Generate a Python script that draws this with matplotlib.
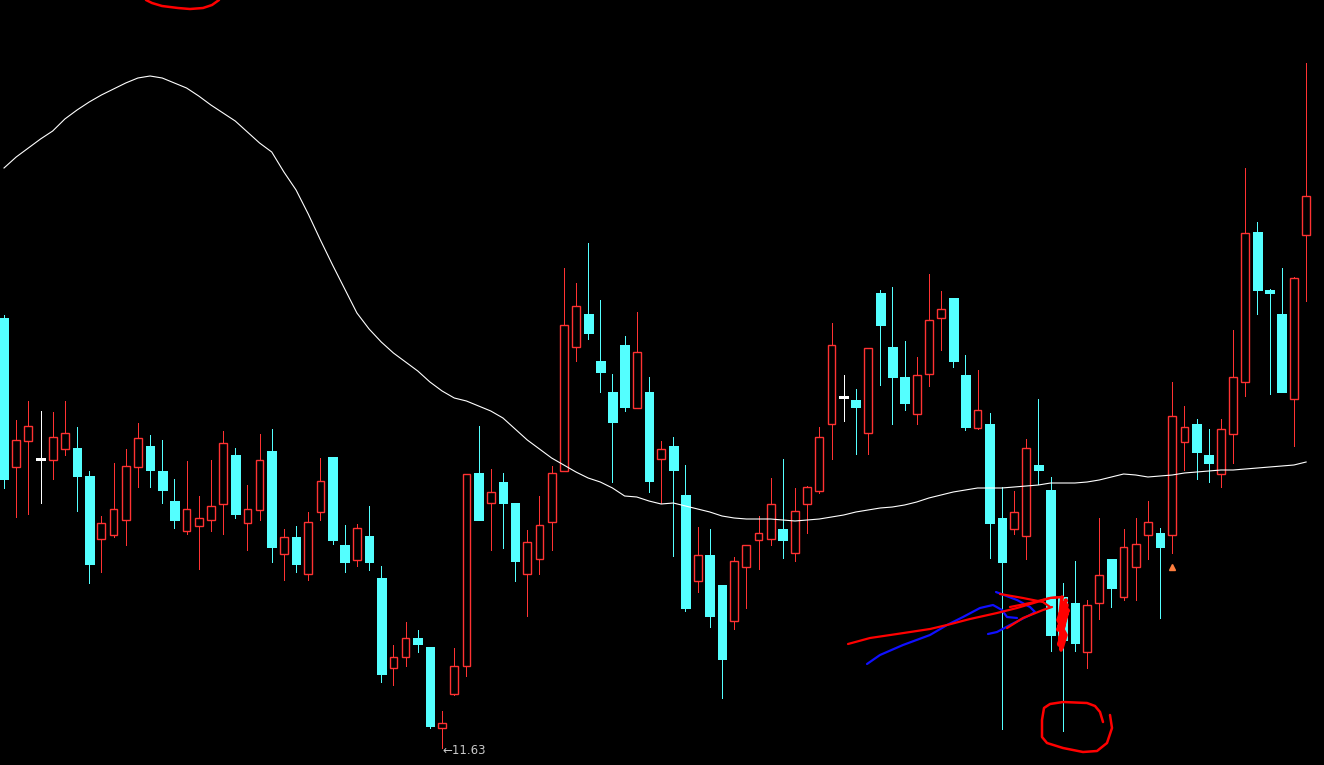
import matplotlib
matplotlib.use("Agg")
import matplotlib.pyplot as plt
from matplotlib.patches import Rectangle
from matplotlib.transforms import Affine2D

# daily candles (price scale from the 11.63 low)
opens = [15.93, 14.44, 14.70, 14.52, 14.51, 14.62, 14.63, 14.35, 13.72, 13.76,
         13.91, 14.44, 14.65, 14.40, 14.10, 13.80, 13.85, 13.91, 14.07, 14.56,
         13.88, 14.01, 14.60, 13.57, 13.74, 13.37, 13.99, 14.54, 13.66, 13.51,
         13.75, 13.33, 12.43, 12.54, 12.73, 12.64, 11.83, 12.17, 12.45, 14.38,
         14.08, 14.29, 14.08, 13.37, 13.52, 13.89, 14.40, 15.64, 15.97, 15.50,
         15.19, 15.66, 15.03, 15.19, 14.52, 14.65, 14.16, 13.30, 13.56, 13.26,
         12.90, 13.44, 13.71, 13.72, 13.82, 13.58, 14.07, 14.20, 14.87, 15.14,
         15.11, 14.78, 16.18, 15.64, 15.34, 14.97, 15.37, 15.93, 16.13, 15.36,
         14.83, 14.87, 13.93, 13.82, 13.75, 14.46, 14.21, 13.14, 13.08, 12.59,
         13.08, 13.52, 13.14, 13.44, 13.76, 13.78, 13.76, 14.69, 14.87, 14.56,
         14.37, 14.77, 15.29, 16.79, 16.21, 15.97, 15.12, 16.76]
highs = [15.96, 14.91, 15.10, 15.00, 14.99, 15.10, 14.84, 14.40, 13.95, 14.48,
         14.62, 14.88, 14.76, 14.71, 14.32, 14.50, 14.15, 14.51, 14.80, 14.63,
         14.26, 14.77, 14.82, 13.82, 13.85, 13.99, 14.53, 14.54, 13.86, 13.87,
         14.05, 13.45, 12.66, 12.89, 12.81, 12.64, 12.00, 12.63, 14.37, 14.85,
         14.42, 14.38, 14.08, 13.81, 14.15, 14.45, 16.43, 16.28, 16.68, 16.11,
         15.37, 15.75, 15.99, 15.34, 14.70, 14.74, 14.46, 13.84, 13.82, 13.26,
         13.54, 13.66, 13.95, 14.33, 14.52, 14.23, 14.25, 14.84, 15.88, 15.36,
         15.22, 15.63, 16.21, 16.24, 15.70, 15.54, 16.37, 16.20, 16.13, 15.56,
         15.41, 14.98, 14.24, 14.20, 14.72, 15.12, 14.34, 13.28, 13.50, 13.11,
         13.93, 13.52, 13.82, 13.93, 14.10, 13.83, 15.29, 15.05, 14.92, 14.82,
         14.92, 15.81, 17.43, 16.89, 16.22, 16.43, 16.34, 18.48]
lows = [14.23, 13.94, 13.97, 14.08, 14.32, 14.56, 14.00, 13.28, 13.39, 13.74,
        13.66, 14.24, 14.24, 14.08, 13.83, 13.77, 13.42, 13.80, 13.77, 13.93,
        13.61, 13.91, 13.49, 13.31, 13.39, 13.31, 13.91, 13.67, 13.39, 13.45,
        13.41, 12.29, 12.26, 12.45, 12.59, 11.83, 11.63, 12.16, 12.35, 13.91,
        13.61, 13.63, 13.30, 12.95, 13.37, 13.61, 14.40, 15.50, 15.72, 15.19,
        14.29, 15.00, 15.03, 14.19, 14.08, 13.55, 13.00, 13.19, 12.84, 12.13,
        12.82, 13.03, 13.42, 13.66, 13.53, 13.50, 13.78, 14.18, 14.52, 14.90,
        14.57, 14.57, 15.26, 14.87, 15.01, 14.87, 15.25, 15.61, 15.44, 14.81,
        14.82, 13.53, 11.82, 13.77, 13.52, 14.27, 12.60, 11.80, 12.60, 12.43,
        12.92, 13.04, 13.11, 13.11, 13.52, 12.93, 13.58, 14.41, 14.32, 14.29,
        14.24, 14.48, 15.15, 15.97, 15.17, 15.19, 14.65, 16.10]
closes = [14.32, 14.71, 14.85, 14.52, 14.74, 14.78, 14.35, 13.47, 13.88, 14.02,
          14.45, 14.73, 14.41, 14.21, 13.91, 14.02, 13.93, 14.05, 14.68, 13.97,
          14.02, 14.51, 13.64, 13.74, 13.47, 13.89, 14.30, 13.71, 13.49, 13.83,
          13.49, 12.37, 12.54, 12.73, 12.67, 11.85, 11.88, 12.45, 14.37, 13.91,
          14.19, 14.08, 13.50, 13.69, 13.86, 14.38, 15.86, 16.05, 15.78, 15.39,
          14.89, 15.04, 15.59, 14.30, 14.62, 14.41, 13.03, 13.56, 12.95, 12.52,
          13.50, 13.66, 13.78, 14.07, 13.71, 14.00, 14.24, 14.74, 15.66, 15.14,
          15.04, 15.63, 15.86, 15.34, 15.08, 15.36, 15.91, 16.02, 15.50, 14.84,
          15.01, 13.88, 13.49, 13.99, 14.63, 14.41, 12.76, 12.71, 12.68, 13.06,
          13.36, 13.23, 13.64, 13.67, 13.89, 13.64, 14.95, 14.84, 14.59, 14.48,
          14.82, 15.34, 16.78, 16.21, 16.18, 15.19, 16.33, 17.15]
ma_line = [17.43, 17.54, 17.63, 17.72, 17.80, 17.92, 18.01, 18.09, 18.16, 18.22,
           18.28, 18.33, 18.35, 18.33, 18.28, 18.23, 18.15, 18.06, 17.98, 17.90,
           17.79, 17.68, 17.59, 17.39, 17.21, 16.97, 16.71, 16.46, 16.22, 15.98,
           15.82, 15.69, 15.58, 15.49, 15.40, 15.29, 15.20, 15.13, 15.10, 15.05,
           15.00, 14.93, 14.82, 14.71, 14.62, 14.53, 14.46, 14.39, 14.33, 14.29,
           14.23, 14.15, 14.14, 14.10, 14.07, 14.08, 14.05, 14.02, 13.99, 13.95,
           13.93, 13.92, 13.92, 13.92, 13.91, 13.90, 13.91, 13.92, 13.94, 13.96,
           13.99, 14.01, 14.03, 14.04, 14.06, 14.09, 14.13, 14.16, 14.19, 14.21,
           14.23, 14.23, 14.23, 14.24, 14.25, 14.26, 14.28, 14.28, 14.28, 14.29,
           14.31, 14.34, 14.37, 14.36, 14.34, 14.35, 14.36, 14.38, 14.39, 14.40,
           14.41, 14.41, 14.42, 14.43, 14.44, 14.45, 14.46, 14.49]
low_label = "\u219011.63"
low_index = 36
signal_index = 96

# hand drawn marks on the screenshot (screen pixels, y from top)
arc_top = [(146, 0), (152, 3), (162, 6), (178, 8), (190, 9), (203, 8), (212, 5), (219, 0)]
circle = [(1110, 715), (1112, 728), (1107, 743), (1097, 751), (1083, 752), (1063, 748),
          (1047, 743), (1042, 737), (1042, 720), (1044, 708), (1050, 704), (1063, 702),
          (1087, 703), (1095, 706), (1100, 712), (1103, 722)]
blue_1 = [(867, 664), (880, 655), (903, 645), (930, 635), (947, 625), (963, 617),
          (980, 608), (993, 605), (1002, 610), (1007, 617), (1017, 618)]
blue_2 = [(996, 592), (1017, 600), (1030, 607), (1035, 612), (1030, 615), (1010, 625),
          (997, 632), (988, 634)]
red_1 = [(848, 644), (870, 638), (897, 634), (930, 629), (947, 625), (970, 619),
         (997, 613), (1017, 608), (1037, 602), (1050, 598), (1060, 597)]
red_2 = [(1000, 594), (1023, 598), (1043, 602), (1050, 607)]
red_3 = [(1010, 607), (1030, 603), (1050, 598), (1063, 597)]
red_4 = [(1007, 628), (1023, 618), (1043, 610), (1052, 607)]
scribble = [(1062, 597), (1060, 615), (1066, 600), (1058, 630), (1067, 605), (1059, 645),
            (1065, 612), (1061, 650), (1063, 625), (1068, 610), (1060, 640), (1064, 603),
            (1058, 620), (1066, 635), (1062, 648)]

UP = "#ff3232"
DOWN = "#54ffff"
W = 1324
H = 765

fig = plt.figure(figsize=(W / 100, H / 100), dpi=100, facecolor="black")
ax = fig.add_axes([0, 0, 1, 1])
ax.set_facecolor("black")
ax.axis("off")

bw = 0.72
wick = 0.72
for i in range(len(opens)):
    o, h, l, c = opens[i], highs[i], lows[i], closes[i]
    if c > o:
        ax.vlines(i, l, o, color=UP, lw=wick, zorder=2, antialiased=False)
        ax.vlines(i, c, h, color=UP, lw=wick, zorder=2, antialiased=False)
        ax.add_patch(Rectangle((i - 0.32, o), 0.64, c - o, facecolor="black",
                               edgecolor=UP, lw=1.0, joinstyle="miter", zorder=3))
    elif c < o:
        ax.vlines(i, l, h, color=DOWN, lw=wick, zorder=2, antialiased=False)
        ax.add_patch(Rectangle((i - bw / 2, c), bw, o - c, facecolor=DOWN,
                               edgecolor=DOWN, lw=0.4, zorder=3, antialiased=False))
    else:
        ax.vlines(i, l, h, color="white", lw=wick, zorder=2, antialiased=False)
        ax.hlines(o, i - bw / 2, i + bw / 2, color="white", lw=1.0, zorder=3,
                  antialiased=False)

ax.plot(range(len(ma_line)), ma_line, color="white", lw=0.8, zorder=4)

ax.text(low_index, lows[low_index] - 0.02, low_label, color="#c8c8c8",
        fontsize=8.5, ha="left", va="center", zorder=5)
ax.plot(signal_index, lows[signal_index] - 0.14, marker="^", color="#ff7f3f",
        markersize=5, zorder=5)

ax.set_xlim(-0.33, 108.47)
ax.set_ylim(11.46, 19.11)

# screen-pixel transform for the hand drawn strokes
pix = Affine2D().scale(1 / W, -1 / H).translate(0, 1) + fig.transFigure


def stroke(pts, color, lw):
    xs = [p[0] for p in pts]
    ys = [p[1] for p in pts]
    ax.plot(xs, ys, color=color, lw=lw, transform=pix, zorder=6,
            solid_capstyle="round", solid_joinstyle="round", clip_on=False)


stroke(arc_top, "#ff0000", 1.8)
stroke(circle, "#ff0000", 1.8)
stroke(blue_1, "#1010ff", 1.6)
stroke(blue_2, "#1010ff", 1.6)
stroke(red_1, "#ff0000", 1.6)
stroke(red_2, "#ff0000", 1.6)
stroke(red_3, "#ff0000", 1.6)
stroke(red_4, "#ff0000", 1.6)
stroke(scribble, "#ff0000", 2.6)

fig.savefig("out.png", dpi=100, facecolor="black")
